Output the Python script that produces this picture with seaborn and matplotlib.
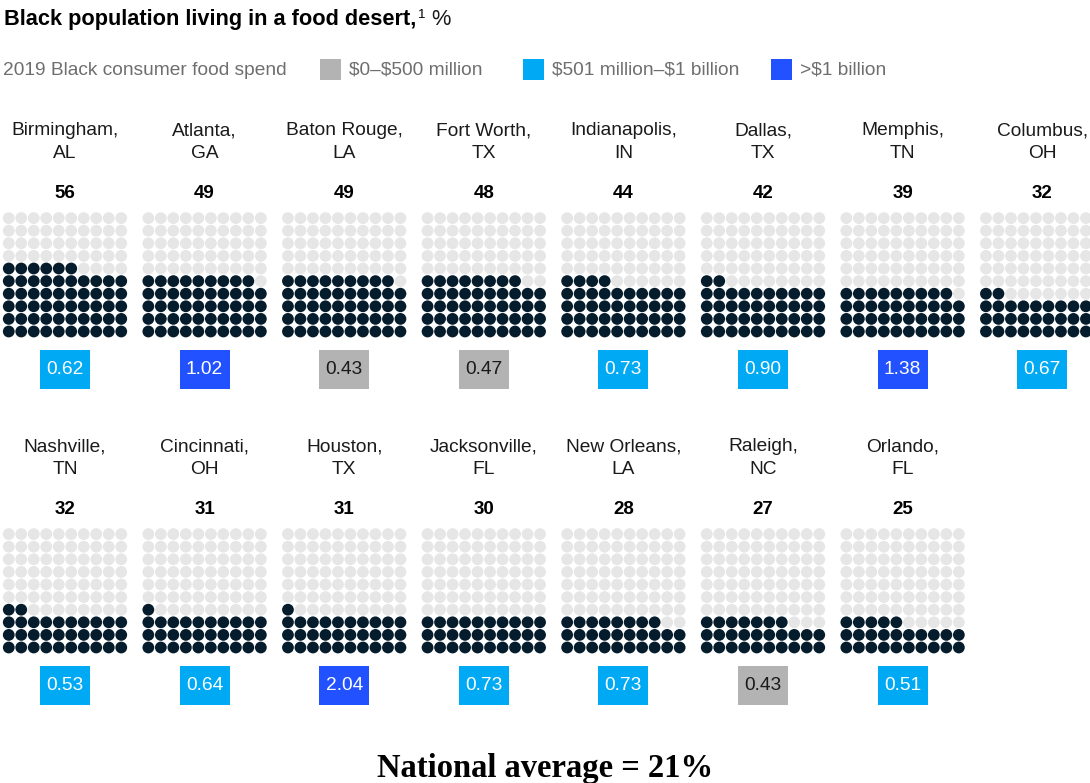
import matplotlib
matplotlib.use("Agg")
import matplotlib.pyplot as plt
import seaborn as sns
import pandas as pd
from matplotlib.patches import Rectangle

# ---- data ----
cities_row1 = ["Birmingham,\nAL", "Atlanta,\nGA", "Baton Rouge,\nLA", "Fort Worth,\nTX",
               "Indianapolis,\nIN", "Dallas,\nTX", "Memphis,\nTN", "Columbus,\nOH"]
pct_row1 = [56, 49, 49, 48, 44, 42, 39, 32]
spend_row1 = [0.62, 1.02, 0.43, 0.47, 0.73, 0.90, 1.38, 0.67]

cities_row2 = ["Nashville,\nTN", "Cincinnati,\nOH", "Houston,\nTX", "Jacksonville,\nFL",
               "New Orleans,\nLA", "Raleigh,\nNC", "Orlando,\nFL"]
pct_row2 = [32, 31, 31, 30, 28, 27, 25]
spend_row2 = [0.53, 0.64, 2.04, 0.73, 0.73, 0.43, 0.51]

legend_labels = ["$0–$500 million", "$501 million–$1 billion", ">$1 billion"]
national_average = 21

# ---- styles ----
NAVY = "#051c2c"
LIGHT = "#e6e6e6"
BOX_COLORS = ["#b3b3b3", "#00a9f4", "#2251ff"]
BOX_TEXT = ["#1a1a1a", "white", "white"]
FONT = "Liberation Sans"

sns.set_theme(style="white")
plt.rcParams["font.family"] = [FONT, "DejaVu Sans"]

def spend_cat(v):
    if v <= 0.5:
        return 0
    if v <= 1.0:
        return 1
    return 2

fig = plt.figure(figsize=(10.9, 7.83), dpi=100)
ax = fig.add_axes([0, 0, 1, 1])

x0, dx = 65.0, 139.6
sx, sy = 12.5, 12.6
rows_cfg = [
    dict(cities=cities_row1, pct=pct_row1, spend=spend_row1, off=0),
    dict(cities=cities_row2, pct=pct_row2, spend=spend_row2, off=316),
]

recs = []
for cfg in rows_cfg:
    for i, p in enumerate(cfg["pct"]):
        cx = x0 + i * dx
        bottom = 331.5 + cfg["off"]
        for k in range(100):
            r, c = divmod(k, 10)
            recs.append(dict(x=cx + (c - 4.5) * sx, y=bottom - r * sy,
                             filled="yes" if k < p else "no"))
dots = pd.DataFrame(recs)
sns.scatterplot(data=dots, x="x", y="y", hue="filled",
                palette={"yes": NAVY, "no": LIGHT}, s=72, linewidth=0,
                legend=False, ax=ax)
ax.set_xlim(0, 1090)
ax.set_ylim(783, 0)
ax.axis("off")

for cfg in rows_cfg:
    off = cfg["off"]
    for i, (name, p, v) in enumerate(zip(cfg["cities"], cfg["pct"], cfg["spend"])):
        cx = x0 + i * dx
        l1, l2 = name.split("\n")
        ax.text(cx, 135 + off, l1, ha="center", va="baseline", fontsize=13.8, color="#1a1a1a")
        ax.text(cx, 158 + off, l2, ha="center", va="baseline", fontsize=13.8, color="#1a1a1a")
        ax.text(cx, 198 + off, str(p), ha="center", va="baseline", fontsize=13.5,
                fontweight="bold", color="#000000")
        cat = spend_cat(v)
        ax.add_patch(Rectangle((cx - 25, 350 + off), 50, 39, facecolor=BOX_COLORS[cat],
                               edgecolor="none"))
        ax.text(cx, 369.5 + off, f"{v:.2f}", ha="center", va="center", fontsize=13.8,
                color=BOX_TEXT[cat])

# ---- title ----
fig.canvas.draw()
renderer = fig.canvas.get_renderer()
t = ax.text(4, 25, "Black population living in a food desert,", ha="left", va="baseline",
            fontsize=15.7, fontweight="bold", color="#000000")
bb = t.get_window_extent(renderer=renderer)
inv = ax.transData.inverted()
xend = inv.transform((bb.x1, bb.y0))[0]
ax.text(xend + 2, 18, "1", ha="left", va="baseline", fontsize=9.5, color="#000000")
ax.text(xend + 15, 25, "%", ha="left", va="baseline", fontsize=15.7, color="#1a1a1a")

# ---- legend ----
ax.text(3, 75, "2019 Black consumer food spend", ha="left", va="baseline", fontsize=13.8,
        color="#6e6e6e", parse_math=False)
sq_x = [320, 523, 771]
for xs, lab, col in zip(sq_x, legend_labels, BOX_COLORS):
    ax.add_patch(Rectangle((xs, 59), 21, 21, facecolor=col, edgecolor="none"))
    ax.text(xs + 29, 75, lab, ha="left", va="baseline", fontsize=13.8, color="#6e6e6e",
            parse_math=False)

# ---- national average ----
ax.text(545, 777, f"National average = {national_average}%", ha="center", va="baseline",
        fontsize=23.5, fontweight="bold", family=["Liberation Serif", "DejaVu Serif"],
        color="#000000", parse_math=False)

fig.savefig("out.png", dpi=100)
